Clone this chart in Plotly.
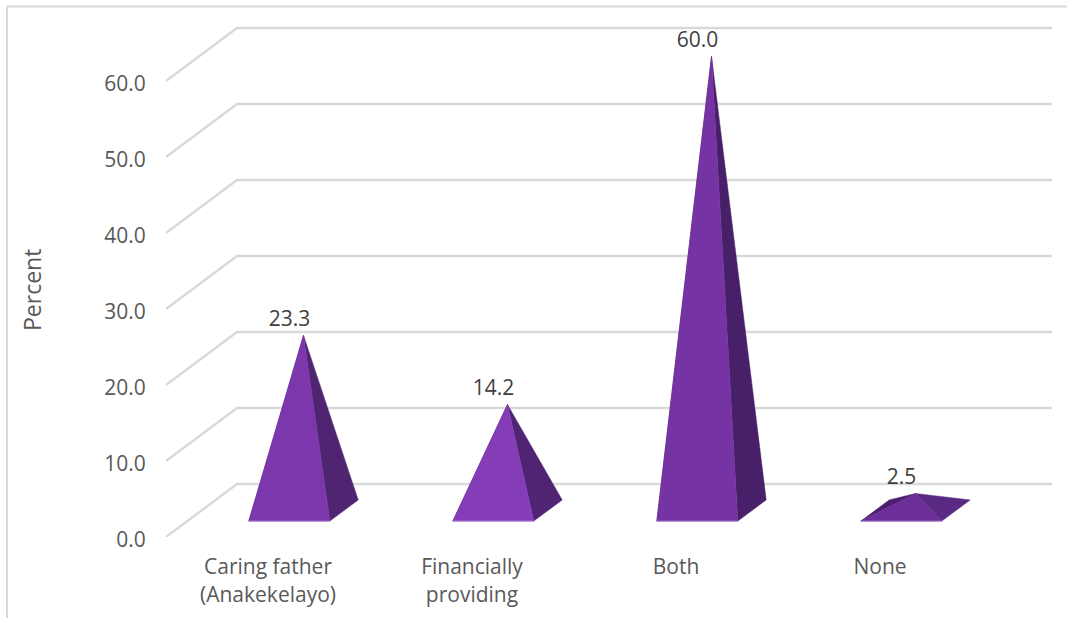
import plotly.graph_objects as go

# Chart content
categories = ["Caring father<br>(Anakekelayo)", "Financially<br>providing", "Both", "None"]
percent = [23.3, 14.2, 60.0, 2.5]
y_ticks = [0, 10, 20, 30, 40, 50, 60]

# Per-pyramid face shades: front, right side, left side
front_colors = ["#7C37AD", "#843DB7", "#7633A3", "#6D2E99"]
right_colors = ["#4F2471", "#502472", "#482069", "#5A2A82"]
left_colors = ["#4A2070", "#4A2070", "#4A2070", "#4A1F6E"]
base_edge_colors = ["#A67BCB", "#AB80D0", "#A178C6", "#9F74C4"]

GRID = "#D9D9D9"
TEXT = "#595959"
LABEL = "#404040"
FONT = "Open Sans"
FONT_SIZE = 21

# Page geometry in pixels; the plot area keeps a little headroom above the top gridline
W, H = 1067, 618
PLOT_LEFT, PLOT_RIGHT, PLOT_TOP, PLOT_BOTTOM = 166, 1052, 20, 537
PX_PER_CATEGORY = 204.0
PX_PER_PERCENT = 7.6

# Oblique projection: how far the full floor depth shifts a point, in axis units
DEPTH_X = 71 / PX_PER_CATEGORY
DEPTH_Y = 53 / PX_PER_PERCENT
HALF_WIDTH = 40.5 / PX_PER_CATEGORY
DEPTH_FRONT, DEPTH_BACK = 0.3, 0.7
APEX_DROP = 2 / PX_PER_PERCENT


def project(x, value, depth):
    return x + depth * DEPTH_X, value + depth * DEPTH_Y


def apex_of(i, value):
    ax, ay = project(i, value, 0.5)
    return ax, ay - APEX_DROP


def polygon(points, color, line_color=None):
    return go.Scatter(
        x=[p[0] for p in points] + [points[0][0]],
        y=[p[1] for p in points] + [points[0][1]],
        mode="lines",
        fill="toself",
        fillcolor=color,
        line=dict(color=line_color or color, width=0.5),
        hoverinfo="skip",
        showlegend=False,
    )


fig = go.Figure()
x_low = -0.5
x_high = x_low + (PLOT_RIGHT - PLOT_LEFT) / PX_PER_CATEGORY

# Walls: each gridline runs up the side wall, then along the back wall
for tick in y_ticks:
    front = project(x_low, tick, 0)
    back = project(x_low, tick, 1)
    fig.add_trace(go.Scatter(
        x=[front[0], back[0], x_high],
        y=[front[1], back[1], back[1]],
        mode="lines",
        line=dict(color=GRID, width=2.4),
        hoverinfo="skip",
        showlegend=False,
        cliponaxis=False,
    ))

# Pyramids: square base on the floor, apex at the series value
for i, value in enumerate(percent):
    fl = project(i - HALF_WIDTH, 0, DEPTH_FRONT)
    fr = project(i + HALF_WIDTH, 0, DEPTH_FRONT)
    bl = project(i - HALF_WIDTH, 0, DEPTH_BACK)
    br = project(i + HALF_WIDTH, 0, DEPTH_BACK)
    apex = apex_of(i, value)
    fig.add_trace(polygon([fl, bl, apex], left_colors[i]))
    fig.add_trace(polygon([fr, br, apex], right_colors[i]))
    fig.add_trace(polygon([fl, fr, apex], front_colors[i]))
    fig.add_trace(go.Scatter(
        x=[fl[0], fr[0]], y=[fl[1], fr[1]], mode="lines",
        line=dict(color=base_edge_colors[i], width=1),
        hoverinfo="skip", showlegend=False,
    ))

# Value labels sit just above each apex, slightly to its left
label_dx = -14 / PX_PER_CATEGORY
label_dy = 15 / PX_PER_PERCENT
fig.add_trace(go.Scatter(
    x=[apex_of(i, v)[0] + label_dx for i, v in enumerate(percent)],
    y=[apex_of(i, v)[1] + label_dy for i, v in enumerate(percent)],
    mode="text",
    text=[f"{v:.1f}" for v in percent],
    textposition="middle center",
    textfont=dict(family=FONT, size=FONT_SIZE, color=LABEL),
    hoverinfo="skip",
    showlegend=False,
    cliponaxis=False,
))

fig.update_layout(
    width=W,
    height=H,
    autosize=False,
    paper_bgcolor="white",
    plot_bgcolor="white",
    margin=dict(l=0, r=0, t=0, b=0),
    font=dict(family=FONT, size=FONT_SIZE, color=TEXT),
    xaxis=dict(
        domain=[PLOT_LEFT / W, PLOT_RIGHT / W],
        range=[x_low, x_high],
        automargin=False,
        tickmode="array",
        tickvals=list(range(len(categories))),
        ticktext=categories,
        ticks="outside",
        ticklen=11,
        tickcolor="rgba(0,0,0,0)",
        showgrid=False,
        zeroline=False,
        showline=False,
        tickfont=dict(family=FONT, size=FONT_SIZE, color=TEXT),
    ),
    yaxis=dict(
        domain=[(H - PLOT_BOTTOM) / H, (H - PLOT_TOP) / H],
        range=[0, (PLOT_BOTTOM - PLOT_TOP) / PX_PER_PERCENT],
        automargin=False,
        tickmode="array",
        tickvals=y_ticks,
        tickformat=".1f",
        ticks="outside",
        ticklen=15,
        tickcolor="rgba(0,0,0,0)",
        ticklabelshift=3,
        showgrid=False,
        zeroline=False,
        showline=False,
        tickfont=dict(family=FONT, size=FONT_SIZE, color=TEXT),
    ),
    annotations=[dict(
        text="Percent",
        xref="paper", yref="paper",
        x=32 / W, y=(H - 290) / H,
        showarrow=False,
        textangle=-90,
        xanchor="center", yanchor="middle",
        font=dict(family=FONT, size=23, color=TEXT),
    )],
    shapes=[
        dict(type="line", xref="paper", yref="paper",
             x0=7 / W, x1=1, y0=(H - 6.5) / H, y1=(H - 6.5) / H,
             line=dict(color=GRID, width=2)),
        dict(type="line", xref="paper", yref="paper",
             x0=7 / W, x1=7 / W, y0=0, y1=(H - 6.5) / H,
             line=dict(color=GRID, width=2)),
    ],
)

fig.write_html("out.html")
